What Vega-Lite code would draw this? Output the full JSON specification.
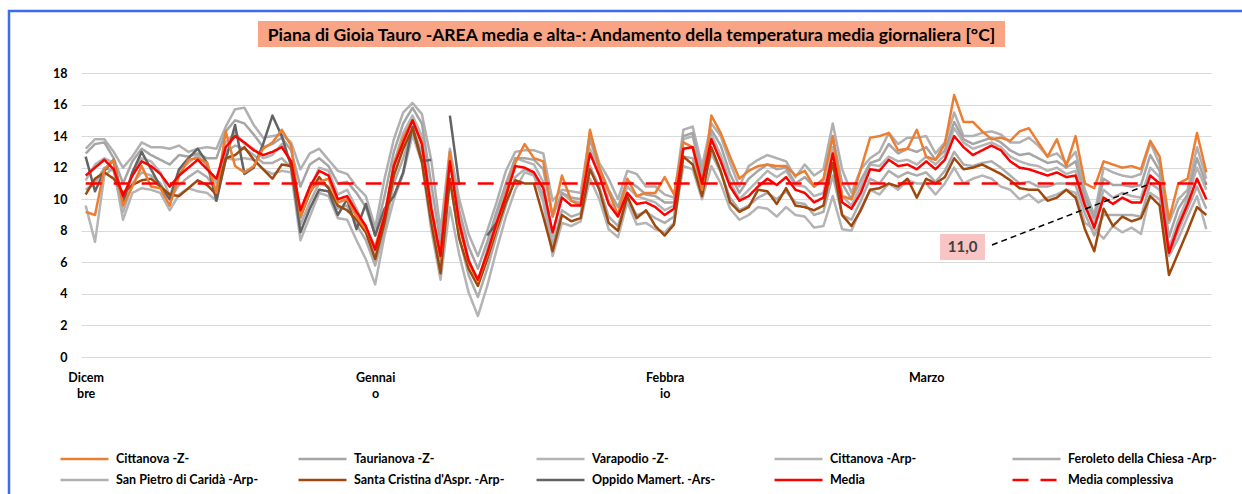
{
"$schema":"https://vega.github.io/schema/vega-lite/v6.json",
"width":1130,"height":284,
"autosize":{"type":"none"},
"padding":{"left":81,"top":73,"right":31,"bottom":137},
"background":"white",
"title":{"text":"Piana di Gioia Tauro -AREA media e alta-: Andamento della temperatura media giornaliera [°C]","font":"Lato","fontSize":17.5,"fontWeight":"bold","color":"black","anchor":"middle","dx":-14.5,"offset":-35,"frame":"group","zindex":2},
"config":{"view":{"stroke":null},
"axis":{"labelFont":"Lato","labelFontWeight":"bold","labelFontSize":12.5,"labelColor":"black","ticks":false,"domain":false,"title":null},
"legend":{"orient":"none","legendX":-4,"legendY":378.5,"direction":"horizontal","columns":5,"gridAlign":"all","symbolType":"M-4,0H4","symbolSize":144,"symbolStrokeWidth":3,"labelFont":"Lato","labelFontWeight":"bold","labelFontSize":12.5,"labelColor":"black","labelOffset":24,"columnPadding":26,"rowPadding":7,"labelLimit":300,"padding":0}},
"layer":[
{"data":{"values":[
{"d":0,"CZ":9.2,"TZ":12.9,"VZ":11.2,"CA":9.6,"FC":10.6,"SP":13.2,"SC":10.3,"OM":12.7,"M":11.5,"MC":11},
{"d":1,"CZ":9.0,"TZ":13.5,"VZ":12.2,"CA":7.3,"FC":11.0,"SP":13.8,"SC":11.3,"OM":10.5,"M":12.0,"MC":11},
{"d":2,"CZ":11.9,"TZ":13.6,"VZ":12.6,"CA":11.5,"FC":12.0,"SP":13.8,"SC":11.7,"OM":11.8,"M":12.5,"MC":11},
{"d":3,"CZ":12.5,"TZ":12.6,"VZ":12.3,"CA":12.0,"FC":11.8,"SP":13.0,"SC":11.3,"OM":12.5,"M":11.9,"MC":11},
{"d":4,"CZ":9.6,"TZ":11.0,"VZ":9.4,"CA":8.7,"FC":9.2,"SP":12.0,"SC":10.4,"OM":9.8,"M":10.2,"MC":11},
{"d":5,"CZ":10.8,"TZ":12.4,"VZ":11.7,"CA":10.4,"FC":11.0,"SP":12.7,"SC":10.9,"OM":11.7,"M":11.5,"MC":11},
{"d":6,"CZ":12.1,"TZ":13.2,"VZ":12.6,"CA":10.7,"FC":11.7,"SP":13.6,"SC":11.2,"OM":13.0,"M":12.4,"MC":11},
{"d":7,"CZ":10.8,"TZ":12.8,"VZ":12.4,"CA":10.6,"FC":11.5,"SP":13.3,"SC":11.3,"OM":11.9,"M":12.1,"MC":11},
{"d":8,"CZ":10.7,"TZ":12.5,"VZ":11.7,"CA":10.4,"FC":11.0,"SP":13.3,"SC":10.8,"OM":10.8,"M":11.6,"MC":11},
{"d":9,"CZ":9.6,"TZ":12.2,"VZ":10.2,"CA":9.3,"FC":10.0,"SP":13.2,"SC":10.3,"OM":10.0,"M":10.8,"MC":11},
{"d":10,"CZ":11.5,"TZ":12.8,"VZ":11.8,"CA":10.3,"FC":10.9,"SP":13.4,"SC":10.2,"OM":11.9,"M":11.5,"MC":11},
{"d":11,"CZ":12.5,"TZ":12.7,"VZ":12.3,"CA":10.7,"FC":11.4,"SP":13.0,"SC":10.7,"OM":12.6,"M":12.0,"MC":11},
{"d":12,"CZ":12.6,"TZ":12.9,"VZ":12.8,"CA":10.5,"FC":11.8,"SP":13.2,"SC":11.2,"OM":13.2,"M":12.5,"MC":11},
{"d":13,"CZ":12.3,"TZ":12.6,"VZ":12.1,"CA":10.4,"FC":11.4,"SP":13.3,"SC":10.9,"OM":12.3,"M":11.9,"MC":11},
{"d":14,"CZ":10.4,"TZ":12.6,"VZ":11.0,"CA":9.9,"FC":10.6,"SP":13.2,"SC":10.3,"OM":9.9,"M":11.3,"MC":11},
{"d":15,"CZ":14.3,"TZ":14.3,"VZ":13.6,"CA":12.6,"FC":13.0,"SP":14.6,"SC":12.6,"OM":12.5,"M":13.3,"MC":11},
{"d":16,"CZ":12.1,"TZ":15.0,"VZ":14.2,"CA":12.5,"FC":13.4,"SP":15.7,"SC":12.8,"OM":14.7,"M":14.0,"MC":11},
{"d":17,"CZ":11.7,"TZ":14.8,"VZ":13.5,"CA":12.6,"FC":13.2,"SP":15.8,"SC":13.3,"OM":11.6,"M":13.6,"MC":11},
{"d":18,"CZ":12.1,"TZ":14.1,"VZ":13.2,"CA":12.5,"FC":12.8,"SP":14.7,"SC":12.5,"OM":12.0,"M":13.1,"MC":11},
{"d":19,"CZ":13.2,"TZ":13.3,"VZ":12.6,"CA":11.9,"FC":12.3,"SP":13.9,"SC":11.9,"OM":13.5,"M":12.8,"MC":11},
{"d":20,"CZ":13.6,"TZ":13.5,"VZ":12.8,"CA":11.6,"FC":12.3,"SP":14.0,"SC":11.3,"OM":15.3,"M":13.0,"MC":11},
{"d":21,"CZ":14.4,"TZ":13.9,"VZ":13.5,"CA":11.8,"FC":12.6,"SP":14.1,"SC":12.2,"OM":14.0,"M":13.3,"MC":11},
{"d":22,"CZ":13.4,"TZ":13.1,"VZ":12.3,"CA":11.7,"FC":12.0,"SP":13.6,"SC":12.1,"OM":12.1,"M":12.4,"MC":11},
{"d":23,"CZ":8.9,"TZ":10.8,"VZ":8.8,"CA":7.4,"FC":8.4,"SP":11.9,"SC":8.9,"OM":7.9,"M":9.3,"MC":11},
{"d":24,"CZ":10.5,"TZ":12.2,"VZ":10.6,"CA":8.9,"FC":9.8,"SP":12.9,"SC":10.4,"OM":9.4,"M":10.8,"MC":11},
{"d":25,"CZ":11.1,"TZ":12.6,"VZ":12.0,"CA":10.4,"FC":11.0,"SP":13.2,"SC":11.4,"OM":10.6,"M":11.8,"MC":11},
{"d":26,"CZ":11.3,"TZ":12.1,"VZ":11.8,"CA":10.2,"FC":10.8,"SP":12.5,"SC":10.7,"OM":10.5,"M":11.5,"MC":11},
{"d":27,"CZ":9.8,"TZ":11.0,"VZ":10.3,"CA":8.8,"FC":9.4,"SP":11.8,"SC":9.6,"OM":9.0,"M":10.0,"MC":11},
{"d":28,"CZ":10.0,"TZ":11.1,"VZ":10.6,"CA":8.7,"FC":9.6,"SP":11.6,"SC":9.3,"OM":10.0,"M":10.2,"MC":11},
{"d":29,"CZ":8.9,"TZ":10.4,"VZ":9.4,"CA":7.4,"FC":8.4,"SP":10.8,"SC":8.7,"OM":8.1,"M":9.2,"MC":11},
{"d":30,"CZ":8.1,"TZ":9.5,"VZ":8.1,"CA":6.2,"FC":7.4,"SP":10.2,"SC":7.9,"OM":9.7,"M":8.3,"MC":11},
{"d":31,"CZ":7.0,"TZ":7.7,"VZ":6.4,"CA":4.6,"FC":5.8,"SP":8.2,"SC":6.2,"OM":7.7,"M":6.8,"MC":11},
{"d":32,"CZ":9.0,"TZ":10.2,"VZ":8.5,"CA":7.7,"FC":8.0,"SP":11.3,"SC":8.5,"OM":9.4,"M":8.9,"MC":11},
{"d":33,"CZ":12.2,"TZ":13.0,"VZ":12.3,"CA":10.0,"FC":11.0,"SP":13.8,"SC":11.5,"OM":10.2,"M":12.1,"MC":11},
{"d":34,"CZ":13.9,"TZ":14.8,"VZ":14.2,"CA":11.6,"FC":12.6,"SP":15.5,"SC":13.2,"OM":11.7,"M":13.6,"MC":11},
{"d":35,"CZ":15.0,"TZ":15.8,"VZ":15.3,"CA":14.1,"FC":14.6,"SP":16.1,"SC":14.5,"OM":14.6,"M":15.0,"MC":11},
{"d":36,"CZ":13.6,"TZ":14.8,"VZ":14.0,"CA":12.3,"FC":12.9,"SP":15.4,"SC":12.4,"OM":12.4,"M":13.5,"MC":11},
{"d":37,"CZ":9.3,"TZ":11.0,"VZ":9.8,"CA":8.1,"FC":8.8,"SP":12.5,"SC":8.5,"OM":12.5,"M":9.4,"MC":11},
{"d":38,"CZ":6.3,"TZ":7.2,"VZ":6.1,"CA":4.9,"FC":5.6,"SP":8.0,"SC":5.3,"OM":null,"M":6.4,"MC":11},
{"d":39,"CZ":13.0,"TZ":12.8,"VZ":12.6,"CA":9.5,"FC":11.2,"SP":13.2,"SC":11.3,"OM":15.3,"M":12.4,"MC":11},
{"d":40,"CZ":8.3,"TZ":9.3,"VZ":8.8,"CA":6.5,"FC":7.6,"SP":10.0,"SC":7.5,"OM":10.9,"M":8.5,"MC":11},
{"d":41,"CZ":6.0,"TZ":7.0,"VZ":6.2,"CA":4.1,"FC":5.2,"SP":7.8,"SC":5.6,"OM":null,"M":6.1,"MC":11},
{"d":42,"CZ":4.8,"TZ":5.6,"VZ":4.7,"CA":2.6,"FC":3.8,"SP":6.4,"SC":4.5,"OM":null,"M":4.9,"MC":11},
{"d":43,"CZ":6.5,"TZ":7.3,"VZ":6.8,"CA":4.5,"FC":5.6,"SP":8.0,"SC":6.2,"OM":7.7,"M":6.6,"MC":11},
{"d":44,"CZ":8.3,"TZ":9.2,"VZ":8.9,"CA":6.8,"FC":7.7,"SP":9.8,"SC":8.1,"OM":8.5,"M":8.5,"MC":11},
{"d":45,"CZ":10.4,"TZ":11.0,"VZ":10.6,"CA":8.9,"FC":9.6,"SP":11.8,"SC":9.8,"M":10.2,"MC":11},
{"d":46,"CZ":12.3,"TZ":12.6,"VZ":12.6,"CA":10.6,"FC":11.4,"SP":13.0,"SC":11.2,"M":12.1,"MC":11},
{"d":47,"CZ":13.5,"TZ":12.6,"VZ":12.4,"CA":11.7,"FC":11.9,"SP":13.1,"SC":11.0,"M":12.0,"MC":11},
{"d":48,"CZ":12.6,"TZ":12.5,"VZ":12.2,"CA":11.5,"FC":11.6,"SP":13.1,"SC":11.0,"M":11.7,"MC":11},
{"d":49,"CZ":12.4,"TZ":11.9,"VZ":11.1,"CA":9.8,"FC":10.2,"SP":12.9,"SC":8.9,"M":10.7,"MC":11},
{"d":50,"CZ":8.9,"TZ":8.9,"VZ":7.6,"CA":6.4,"FC":7.1,"SP":9.9,"SC":6.7,"M":7.9,"MC":11},
{"d":51,"CZ":11.5,"TZ":10.4,"VZ":10.4,"CA":8.5,"FC":9.3,"SP":10.6,"SC":9.0,"M":10.1,"MC":11},
{"d":52,"CZ":9.9,"TZ":10.1,"VZ":9.9,"CA":8.3,"FC":8.9,"SP":10.5,"SC":8.6,"M":9.6,"MC":11},
{"d":53,"CZ":9.6,"TZ":10.0,"VZ":9.8,"CA":8.6,"FC":9.1,"SP":10.4,"SC":8.8,"M":9.6,"MC":11},
{"d":54,"CZ":14.4,"TZ":13.8,"VZ":13.2,"CA":11.3,"FC":12.1,"SP":14.2,"SC":11.9,"M":12.9,"MC":11},
{"d":55,"CZ":12.0,"TZ":12.0,"VZ":11.9,"CA":10.0,"FC":10.8,"SP":12.3,"SC":10.6,"M":11.5,"MC":11},
{"d":56,"CZ":10.5,"TZ":10.6,"VZ":9.9,"CA":8.1,"FC":8.9,"SP":11.3,"SC":8.5,"M":9.7,"MC":11},
{"d":57,"CZ":9.0,"TZ":9.5,"VZ":9.0,"CA":7.6,"FC":8.3,"SP":10.0,"SC":8.0,"M":8.9,"MC":11},
{"d":58,"CZ":11.3,"TZ":11.2,"VZ":10.8,"CA":9.8,"FC":10.1,"SP":11.8,"SC":10.2,"M":10.4,"MC":11},
{"d":59,"CZ":10.2,"TZ":10.8,"VZ":10.2,"CA":8.4,"FC":9.0,"SP":11.6,"SC":8.8,"M":9.7,"MC":11},
{"d":60,"CZ":10.4,"TZ":10.3,"VZ":10.0,"CA":8.5,"FC":9.2,"SP":10.8,"SC":9.3,"M":9.8,"MC":11},
{"d":61,"CZ":10.4,"TZ":10.2,"VZ":9.8,"CA":8.1,"FC":8.8,"SP":10.8,"SC":8.3,"M":9.5,"MC":11},
{"d":62,"CZ":11.4,"TZ":9.8,"VZ":9.3,"CA":7.9,"FC":8.5,"SP":10.3,"SC":7.7,"M":9.0,"MC":11},
{"d":63,"CZ":10.3,"TZ":9.8,"VZ":9.6,"CA":8.5,"FC":8.9,"SP":10.1,"SC":8.4,"M":9.4,"MC":11},
{"d":64,"CZ":13.6,"TZ":14.0,"VZ":13.8,"CA":12.1,"FC":12.7,"SP":14.4,"SC":12.7,"M":13.2,"MC":11},
{"d":65,"CZ":13.3,"TZ":14.2,"VZ":14.0,"CA":11.9,"FC":12.6,"SP":14.6,"SC":12.2,"M":13.3,"MC":11},
{"d":66,"CZ":10.6,"TZ":11.6,"VZ":11.4,"CA":10.0,"FC":10.5,"SP":12.1,"SC":10.2,"M":11.0,"MC":11},
{"d":67,"CZ":15.3,"TZ":14.4,"VZ":14.1,"CA":12.1,"FC":12.9,"SP":14.8,"SC":13.3,"M":13.8,"MC":11},
{"d":68,"CZ":14.2,"TZ":13.4,"VZ":12.8,"CA":11.0,"FC":11.7,"SP":14.0,"SC":11.8,"M":12.4,"MC":11},
{"d":69,"CZ":12.7,"TZ":11.6,"VZ":11.1,"CA":9.4,"FC":10.1,"SP":12.3,"SC":9.8,"M":10.8,"MC":11},
{"d":70,"CZ":11.3,"TZ":10.4,"VZ":10.0,"CA":8.7,"FC":9.3,"SP":10.8,"SC":9.2,"M":9.9,"MC":11},
{"d":71,"CZ":11.8,"TZ":11.3,"VZ":10.6,"CA":9.0,"FC":9.6,"SP":12.1,"SC":9.5,"M":10.2,"MC":11},
{"d":72,"CZ":12.1,"TZ":11.8,"VZ":11.2,"CA":9.5,"FC":10.1,"SP":12.5,"SC":10.6,"M":10.8,"MC":11},
{"d":73,"CZ":12.2,"TZ":12.2,"VZ":11.8,"CA":9.4,"FC":10.4,"SP":12.8,"SC":10.5,"M":11.3,"MC":11},
{"d":74,"CZ":12.1,"TZ":11.9,"VZ":11.4,"CA":8.9,"FC":10.0,"SP":12.6,"SC":9.7,"M":10.9,"MC":11},
{"d":75,"CZ":12.1,"TZ":12.0,"VZ":11.8,"CA":9.5,"FC":10.5,"SP":12.4,"SC":10.7,"M":11.4,"MC":11},
{"d":76,"CZ":11.5,"TZ":11.0,"VZ":10.9,"CA":9.0,"FC":9.8,"SP":11.4,"SC":9.6,"M":10.6,"MC":11},
{"d":77,"CZ":11.8,"TZ":11.4,"VZ":10.8,"CA":8.9,"FC":9.7,"SP":12.2,"SC":9.5,"M":10.4,"MC":11},
{"d":78,"CZ":10.8,"TZ":10.8,"VZ":10.2,"CA":8.2,"FC":9.0,"SP":11.5,"SC":9.3,"M":9.8,"MC":11},
{"d":79,"CZ":11.3,"TZ":11.2,"VZ":10.4,"CA":8.3,"FC":9.2,"SP":11.9,"SC":9.6,"M":10.1,"MC":11},
{"d":80,"CZ":14.0,"TZ":14.0,"VZ":13.3,"CA":10.2,"FC":11.5,"SP":14.8,"SC":12.3,"M":12.9,"MC":11},
{"d":81,"CZ":10.2,"TZ":11.0,"VZ":10.2,"CA":8.1,"FC":9.0,"SP":11.9,"SC":9.0,"M":9.8,"MC":11},
{"d":82,"CZ":10.0,"TZ":10.0,"VZ":9.6,"CA":8.0,"FC":8.7,"SP":10.4,"SC":8.3,"M":9.4,"MC":11},
{"d":83,"CZ":11.9,"TZ":11.2,"VZ":10.8,"CA":9.4,"FC":9.9,"SP":11.9,"SC":9.3,"M":10.4,"MC":11},
{"d":84,"CZ":13.9,"TZ":12.3,"VZ":12.2,"CA":10.6,"FC":11.3,"SP":12.6,"SC":10.6,"M":11.9,"MC":11},
{"d":85,"CZ":14.0,"TZ":12.5,"VZ":12.1,"CA":10.3,"FC":11.0,"SP":13.0,"SC":10.7,"M":11.8,"MC":11},
{"d":86,"CZ":14.2,"TZ":13.5,"VZ":12.7,"CA":11.0,"FC":11.8,"SP":14.2,"SC":11.0,"M":12.5,"MC":11},
{"d":87,"CZ":13.1,"TZ":12.9,"VZ":12.4,"CA":10.6,"FC":11.4,"SP":13.5,"SC":10.8,"M":12.1,"MC":11},
{"d":88,"CZ":13.2,"TZ":13.2,"VZ":12.5,"CA":11.2,"FC":11.7,"SP":13.9,"SC":11.3,"M":12.2,"MC":11},
{"d":89,"CZ":14.4,"TZ":13.0,"VZ":12.2,"CA":11.0,"FC":11.5,"SP":13.9,"SC":10.1,"M":11.9,"MC":11},
{"d":90,"CZ":12.7,"TZ":13.3,"VZ":12.7,"CA":11.0,"FC":11.7,"SP":14.0,"SC":11.3,"M":12.4,"MC":11},
{"d":91,"CZ":12.5,"TZ":12.5,"VZ":12.2,"CA":10.3,"FC":11.1,"SP":12.9,"SC":11.0,"M":11.9,"MC":11},
{"d":92,"CZ":13.5,"TZ":13.1,"VZ":12.8,"CA":11.0,"FC":11.8,"SP":13.6,"SC":11.4,"M":12.5,"MC":11},
{"d":93,"CZ":16.6,"TZ":14.9,"VZ":14.5,"CA":12.0,"FC":13.0,"SP":15.5,"SC":12.6,"M":14.0,"MC":11},
{"d":94,"CZ":14.9,"TZ":13.8,"VZ":13.6,"CA":11.0,"FC":12.2,"SP":14.0,"SC":11.9,"M":13.3,"MC":11},
{"d":95,"CZ":14.9,"TZ":13.5,"VZ":13.2,"CA":11.3,"FC":12.1,"SP":14.0,"SC":12.0,"M":12.8,"MC":11},
{"d":96,"CZ":14.3,"TZ":13.7,"VZ":13.4,"CA":11.5,"FC":12.3,"SP":14.2,"SC":12.2,"M":13.1,"MC":11},
{"d":97,"CZ":13.8,"TZ":13.9,"VZ":13.6,"CA":11.3,"FC":12.4,"SP":14.3,"SC":11.9,"M":13.4,"MC":11},
{"d":98,"CZ":13.9,"TZ":13.6,"VZ":13.3,"CA":10.8,"FC":12.0,"SP":14.1,"SC":11.6,"M":13.1,"MC":11},
{"d":99,"CZ":13.7,"TZ":13.1,"VZ":12.7,"CA":10.6,"FC":11.5,"SP":13.6,"SC":11.2,"M":12.4,"MC":11},
{"d":100,"CZ":14.3,"TZ":12.8,"VZ":12.4,"CA":10.0,"FC":11.0,"SP":13.6,"SC":10.7,"M":12.0,"MC":11},
{"d":101,"CZ":14.5,"TZ":12.9,"VZ":12.2,"CA":10.3,"FC":11.1,"SP":13.9,"SC":10.6,"M":11.9,"MC":11},
{"d":102,"CZ":13.6,"TZ":12.6,"VZ":12.1,"CA":9.8,"FC":10.8,"SP":13.4,"SC":10.6,"M":11.7,"MC":11},
{"d":103,"CZ":12.7,"TZ":12.3,"VZ":11.8,"CA":10.1,"FC":10.8,"SP":12.7,"SC":9.9,"M":11.5,"MC":11},
{"d":104,"CZ":13.8,"TZ":12.4,"VZ":12.0,"CA":10.3,"FC":11.0,"SP":12.9,"SC":10.1,"M":11.7,"MC":11},
{"d":105,"CZ":12.1,"TZ":12.0,"VZ":11.6,"CA":10.6,"FC":11.0,"SP":12.3,"SC":10.6,"M":11.4,"MC":11},
{"d":106,"CZ":14.0,"TZ":12.4,"VZ":11.8,"CA":10.4,"FC":10.9,"SP":13.0,"SC":10.1,"M":11.5,"MC":11},
{"d":107,"CZ":11.0,"TZ":10.2,"VZ":9.9,"CA":8.5,"FC":9.1,"SP":10.6,"SC":8.1,"M":9.6,"MC":11},
{"d":108,"CZ":10.7,"TZ":8.8,"VZ":8.4,"CA":8.1,"FC":7.7,"SP":9.0,"SC":6.7,"M":8.2,"MC":11},
{"d":109,"CZ":12.4,"TZ":11.3,"VZ":10.6,"CA":7.5,"FC":9.0,"SP":12.0,"SC":9.4,"M":10.1,"MC":11},
{"d":110,"CZ":12.2,"TZ":10.9,"VZ":10.1,"CA":8.3,"FC":9.0,"SP":11.7,"SC":8.3,"M":9.7,"MC":11},
{"d":111,"CZ":12.0,"TZ":10.9,"VZ":10.4,"CA":7.9,"FC":9.0,"SP":11.5,"SC":8.9,"M":10.1,"MC":11},
{"d":112,"CZ":12.1,"TZ":10.8,"VZ":10.2,"CA":8.2,"FC":9.0,"SP":11.4,"SC":8.6,"M":9.8,"MC":11},
{"d":113,"CZ":11.9,"TZ":10.9,"VZ":10.1,"CA":7.8,"FC":8.9,"SP":11.6,"SC":8.8,"M":9.8,"MC":11},
{"d":114,"CZ":13.7,"TZ":12.8,"VZ":12.0,"CA":10.4,"FC":11.0,"SP":13.6,"SC":10.2,"M":11.5,"MC":11},
{"d":115,"CZ":12.7,"TZ":11.8,"VZ":11.4,"CA":10.0,"FC":10.6,"SP":12.2,"SC":9.6,"M":11.0,"MC":11},
{"d":116,"CZ":8.7,"TZ":7.6,"VZ":6.9,"CA":6.4,"FC":6.5,"SP":8.5,"SC":5.2,"M":6.6,"MC":11},
{"d":117,"CZ":11.0,"TZ":9.4,"VZ":8.7,"CA":7.5,"FC":8.0,"SP":10.0,"SC":6.6,"M":8.3,"MC":11},
{"d":118,"CZ":11.3,"TZ":10.3,"VZ":10.1,"CA":8.9,"FC":9.4,"SP":10.6,"SC":8.0,"M":9.7,"MC":11},
{"d":119,"CZ":14.2,"TZ":12.6,"VZ":12.0,"CA":10.2,"FC":10.8,"SP":13.3,"SC":9.5,"M":11.3,"MC":11},
{"d":120,"CZ":11.7,"TZ":10.9,"VZ":10.6,"CA":8.1,"FC":9.4,"SP":11.3,"SC":9.0,"M":10.0,"MC":11}
]},
"transform":[{"fold":["SP","CA","FC","VZ","TZ","OM","SC","CZ","M","MC"],"as":["serie","v"]}],
"mark":{"type":"line","invalid":"break-paths-show-domains","strokeJoin":"round","strokeCap":"butt"},
"encoding":{
"x":{"field":"d","type":"quantitative","scale":{"domain":[-0.5,120.5],"nice":false,"zero":false},"axis":{"values":[0,31,62,90],"grid":false,"labelExpr":"datum.value==0?['Dicem','bre']:datum.value==31?['Gennai','o']:datum.value==62?['Febbra','io']:'Marzo'","labelLineHeight":16,"labelPadding":14,"labelOverlap":false,"labelFlush":false}},
"y":{"field":"v","type":"quantitative","scale":{"domain":[0,18],"nice":false},"axis":{"values":[0,2,4,6,8,10,12,14,16,18],"tickCount":10,"labelOverlap":false,"grid":true,"gridColor":"#D9D9D9","gridWidth":1,"labelPadding":14}},
"color":{"field":"serie","type":"nominal","scale":{"domain":["CZ","TZ","VZ","CA","FC","SP","SC","OM","M","MC"],"range":["#ED7D31","#A5A5A5","#B4B4B4","#B4B4B4","#ADADAD","#B0B0B0","#9E480E","#636363","#FF0000","#FF0000"]},"legend":{"title":null,"labelExpr":"datum.label=='CZ'?'Cittanova -Z-':datum.label=='TZ'?'Taurianova -Z-':datum.label=='VZ'?'Varapodio -Z-':datum.label=='CA'?'Cittanova -Arp-':datum.label=='FC'?'Feroleto della Chiesa -Arp-':datum.label=='SP'?'San Pietro di Caridà -Arp-':datum.label=='SC'?\"Santa Cristina d'Aspr. -Arp-\":datum.label=='OM'?'Oppido Mamert. -Ars-':datum.label=='M'?'Media':'Media complessiva'"}},
"strokeDash":{"field":"serie","type":"nominal","scale":{"domain":["CZ","TZ","VZ","CA","FC","SP","SC","OM","M","MC"],"range":[[1,0],[1,0],[1,0],[1,0],[1,0],[1,0],[1,0],[1,0],[1,0],[16,12]]},"legend":{"title":null,"labelExpr":"datum.label=='CZ'?'Cittanova -Z-':datum.label=='TZ'?'Taurianova -Z-':datum.label=='VZ'?'Varapodio -Z-':datum.label=='CA'?'Cittanova -Arp-':datum.label=='FC'?'Feroleto della Chiesa -Arp-':datum.label=='SP'?'San Pietro di Caridà -Arp-':datum.label=='SC'?\"Santa Cristina d'Aspr. -Arp-\":datum.label=='OM'?'Oppido Mamert. -Ars-':datum.label=='M'?'Media':'Media complessiva'"}},
"strokeWidth":{"field":"serie","type":"nominal","scale":{"domain":["CZ","TZ","VZ","CA","FC","SP","SC","OM","M","MC"],"range":[2.5,2.5,2.5,2.5,2.5,2.5,2.5,2.5,3,4]},"legend":{"title":null,"labelExpr":"datum.label=='CZ'?'Cittanova -Z-':datum.label=='TZ'?'Taurianova -Z-':datum.label=='VZ'?'Varapodio -Z-':datum.label=='CA'?'Cittanova -Arp-':datum.label=='FC'?'Feroleto della Chiesa -Arp-':datum.label=='SP'?'San Pietro di Caridà -Arp-':datum.label=='SC'?\"Santa Cristina d'Aspr. -Arp-\":datum.label=='OM'?'Oppido Mamert. -Ars-':datum.label=='M'?'Media':'Media complessiva'"}}
}},
{"data":{"values":[{}]},"mark":{"type":"rect","fill":"#F9A484"},"encoding":{"x":{"datum":18.45},"x2":{"datum":98.44},"y":{"datum":19.65},"y2":{"datum":21.29}}},
{"data":{"values":[{}]},"mark":{"type":"rect","filled":false,"stroke":"#3C6CF0","strokeWidth":2.5},"encoding":{"x":{"datum":-8.21},"x2":{"datum":125.8},"y":{"datum":21.93},"y2":{"datum":-9.1}}},
{"data":{"values":[{}]},"mark":{"type":"rule","color":"black","strokeWidth":1.5,"strokeDash":[6,4]},"encoding":{"x":{"datum":97.05},"x2":{"datum":114.1},"y":{"datum":7.1},"y2":{"datum":11.0}}},
{"data":{"values":[{}]},"mark":{"type":"rect","fill":"#F8C4C4"},"encoding":{"x":{"datum":91.48},"x2":{"datum":96.3},"y":{"datum":6.15},"y2":{"datum":7.79}}},
{"data":{"values":[{}]},"mark":{"type":"text","text":"11,0","font":"Lato","fontWeight":"bold","fontSize":15,"color":"#404040","align":"center","baseline":"middle"},"encoding":{"x":{"datum":93.9},"y":{"datum":6.97}}}
]
}
